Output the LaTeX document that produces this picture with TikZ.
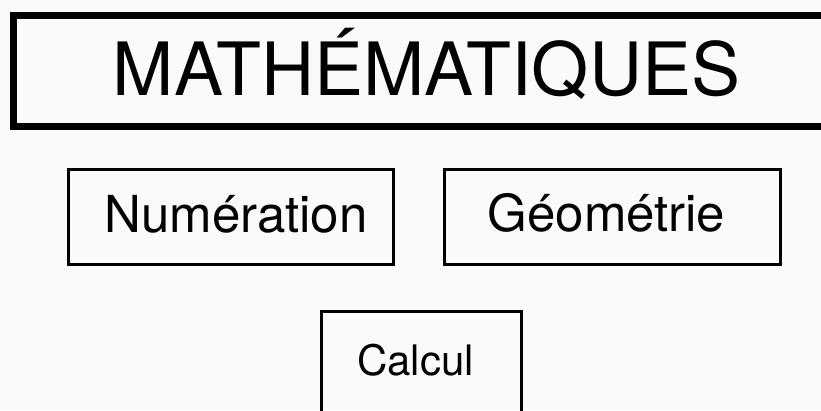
\documentclass[tikz,border=0pt]{standalone}
\usepackage{fontspec}
\setmainfont{TeX Gyre Heros}

\begin{document}
\begin{tikzpicture}[x=1pt, y=-1pt,
    cadre/.style={draw, line width=3pt, rectangle, inner sep=0pt},
    titre/.style={anchor=base, inner sep=0pt, font=\fontsize{#1}{#1}\selectfont},
]
    % Background
    \useasboundingbox (0,0) rectangle (821,410);
    \fill[white!98!black] (0,0) rectangle (821,410);

    % Main title
    \node[cadre, overlay, line width=7pt, minimum width=826pt, minimum height=111pt] (math) at (426.75,71.25) {};
    \node[titre=73.5] (mathtext) at (426.5,95) {MATHÉMATIQUES};

    % Domains
    \node[cadre, minimum width=325pt, minimum height=95pt] (num) at (231,217) {};
    \node[titre=51] (numtext) at (236,232.7) {Numération};
    \node[cadre, minimum width=335.5pt, minimum height=95pt] (geo) at (612.25,217) {};
    \node[titre=51] (geotext) at (606.5,231.7) {Géométrie};

    % Bottom box
    \node[cadre, overlay, minimum width=199.5pt, minimum height=104pt] (calc) at (421.25,363.5) {};
    \node[titre=42] (calctext) at (415.5,375) {Calcul};
\end{tikzpicture}
\end{document}
